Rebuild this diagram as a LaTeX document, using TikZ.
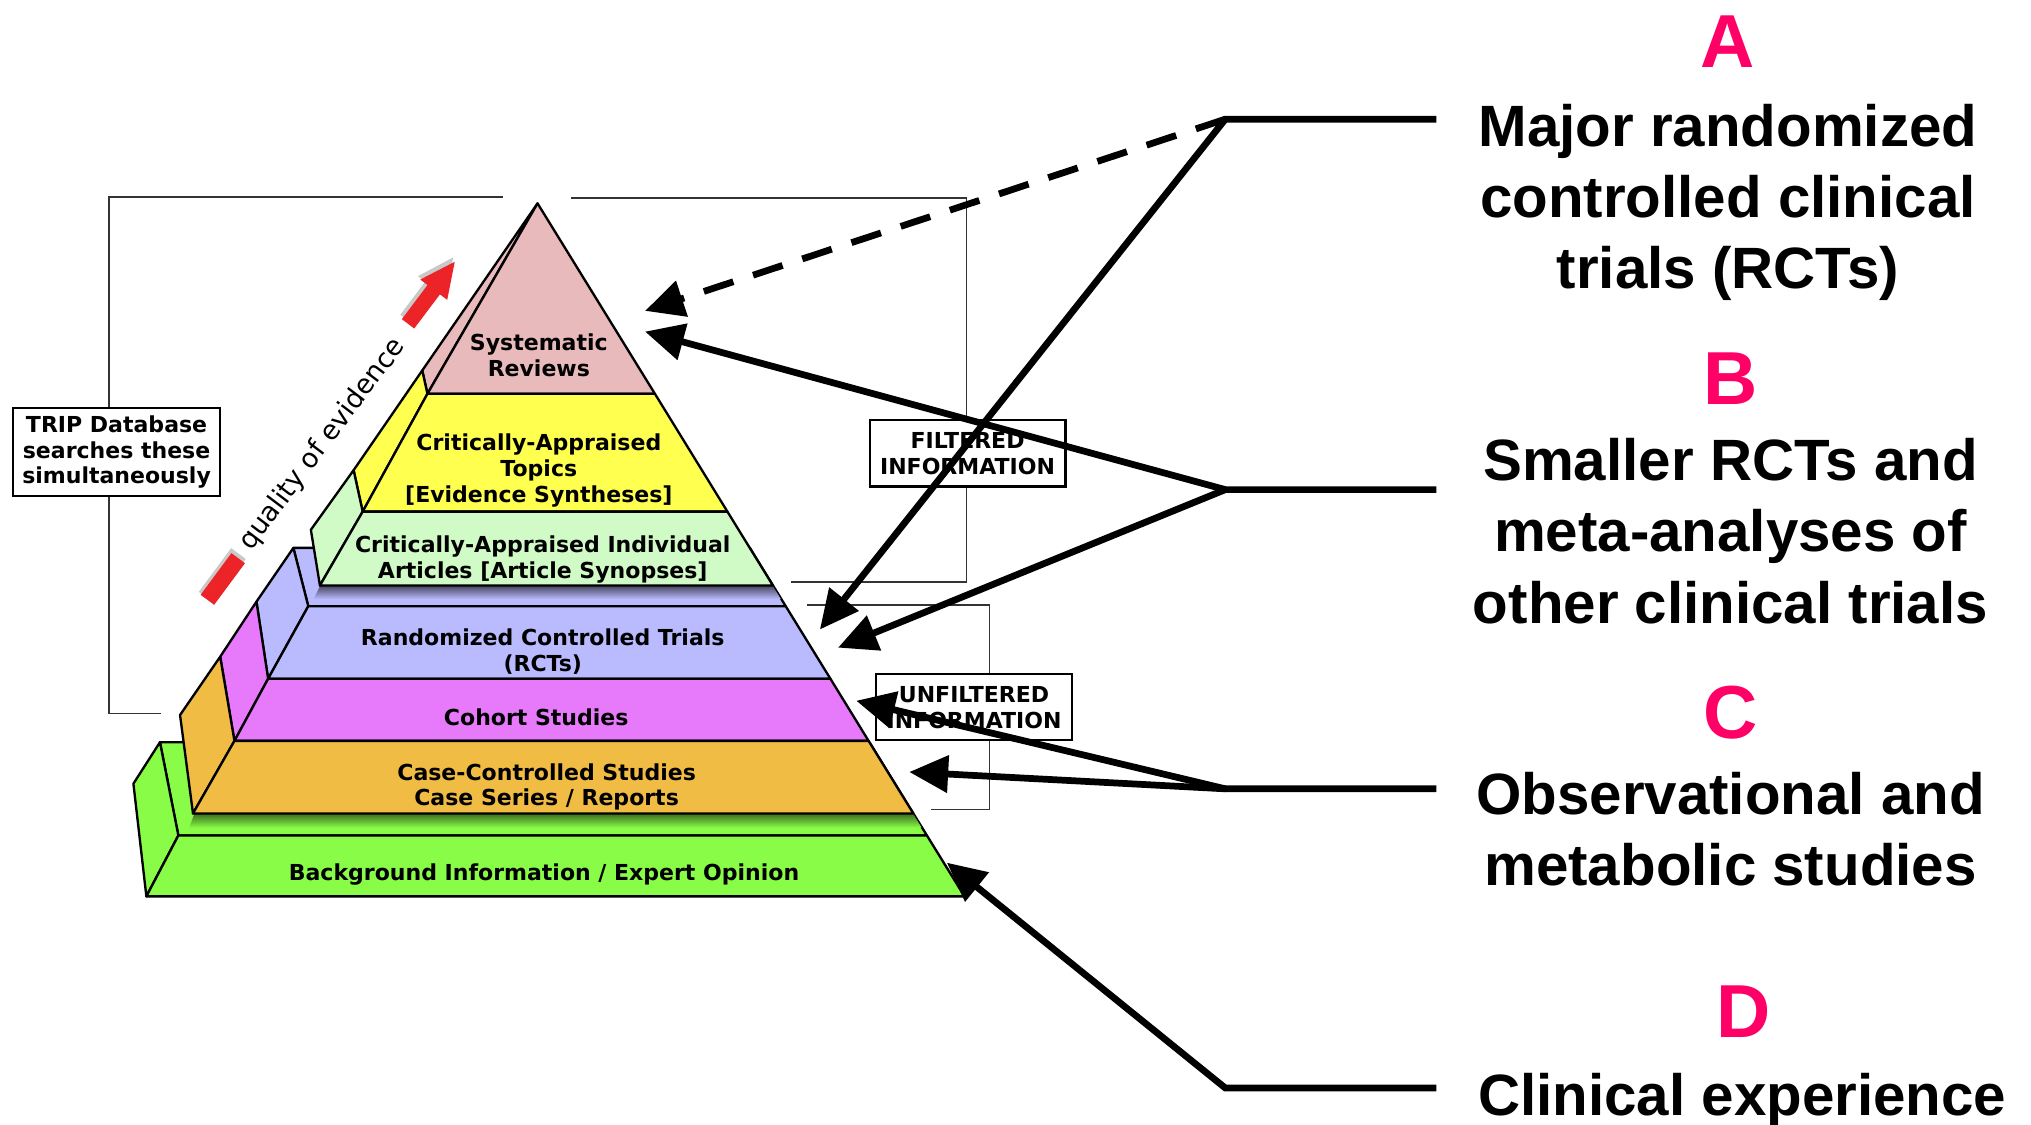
\documentclass[tikz,border=0pt]{standalone}
\usepackage{fontspec}
\setmainfont{Liberation Sans}
\newfontfamily\pyrfont{DejaVu Sans}
\usetikzlibrary{arrows.meta}

% layer colours
\definecolor{srpink}{RGB}{232,186,188}
\definecolor{catyellow}{RGB}{255,255,80}
\definecolor{caiagreen}{RGB}{208,250,198}
\definecolor{rctlav}{RGB}{186,186,255}
\definecolor{cohmag}{RGB}{230,122,250}
\definecolor{ccorange}{RGB}{240,188,68}
\definecolor{bggreen}{RGB}{136,252,70}
\definecolor{letterpink}{RGB}{255,0,102}
\definecolor{qred}{RGB}{236,36,40}

\begin{document}
\begin{tikzpicture}[x=0.5pt,y=-0.5pt,
  face/.style={draw=black,line width=0.9pt,line join=round},
  tierlabel/.style={font=\pyrfont\bfseries\fontsize{8.5}{10}\selectfont,align=center,inner sep=0pt},
  infobox/.style={draw=black,line width=0.9pt,fill=white,align=center,inner sep=0pt,
    font=\pyrfont\bfseries\fontsize{8.5}{10}\selectfont},
  bracket/.style={draw=black!80,line width=0.6pt},
  letter/.style={font=\bfseries\fontsize{29}{34}\selectfont,text=letterpink,anchor=base,inner sep=0pt},
  descr/.style={font=\bfseries\fontsize{22.5}{27.5}\selectfont,align=center,anchor=north,inner sep=0pt},
  conn/.style={line width=2.6pt,line join=miter,-{Triangle[length=15pt,width=14pt]}},
  hline/.style={line width=2.6pt}
]
\fill[white] (0,0) rectangle (1568,868);
\useasboundingbox (0,0) rectangle (1568,868);

% ---- thin brackets grouping the levels
\draw[bracket] (124,551) -- (84,551) -- (84,152) -- (388,152);
\draw[bracket] (441,153) -- (746,153) -- (746,449.5) -- (611,449.5);
\draw[bracket] (623,467) -- (764,467) -- (764,625) -- (719,625);

\node[infobox,minimum width=80pt,minimum height=34pt] (trip) at (90,349)
  {TRIP Database\\searches these\\simultaneously};
\node[infobox,minimum width=75.5pt,minimum height=25.5pt] (filt) at (747,350)
  {FILTERED\\INFORMATION};
\node[infobox,minimum width=75.5pt,minimum height=25.5pt] (unfilt) at (752,546)
  {UNFILTERED\\INFORMATION};

% ---- base tier
\draw[face,fill=bggreen] (123.5,573) -- (671.2,573) -- (715.6,645) -- (137.7,645) -- cycle;
\shade[top color=bggreen!45!black,bottom color=bggreen] (150,628.5) -- (705.1,628.5) -- (711.5,639) -- (146,639) -- cycle;
\draw[face,fill=bggreen] (123.5,573) -- (103,605) -- (113,692) -- (137.7,645) -- cycle;
\draw[face,fill=bggreen] (137.7,645) -- (715.6,645) -- (744.6,692) -- (113,692) -- cycle;

% ---- unfiltered tier
\draw[face,fill=rctlav] (226.5,423) -- (578.9,423) -- (606.6,468) -- (238,468) -- cycle;
\shade[top color=rctlav!40!black,bottom color=rctlav] (247,452.5) -- (596.7,452.5) -- (602.8,462.5) -- (242,462.5) -- cycle;
\draw[face,fill=rctlav] (226.5,423) -- (198,464.5) -- (207,524) -- (238,468) -- cycle;
\draw[face,fill=cohmag] (198,464.5) -- (170,507) -- (181,572) -- (207,524) -- cycle;
\draw[face,fill=ccorange] (170,507) -- (139,552) -- (149,628) -- (181,572) -- cycle;
\draw[face,fill=rctlav] (238,468) -- (606.6,468) -- (641.1,524) -- (207,524) -- cycle;
\draw[face,fill=cohmag] (207,524) -- (641.1,524) -- (670.6,572) -- (181,572) -- cycle;
\draw[face,fill=ccorange] (181,572) -- (670.6,572) -- (705.1,628) -- (149,628) -- cycle;

% ---- filtered tier
\draw[face,fill=srpink] (415,157) -- (326,286) -- (330,304) -- cycle;
\draw[face,fill=catyellow] (326,286) -- (273,363) -- (280,395) -- (330,304) -- cycle;
\draw[face,fill=caiagreen] (273,363) -- (240,409) -- (247,452) -- (280,395) -- cycle;
\draw[face,fill=srpink] (415,157) -- (505.6,304) -- (330,304) -- cycle;
\draw[face,fill=catyellow] (330,304) -- (505.6,304) -- (561.6,395) -- (280,395) -- cycle;
\draw[face,fill=caiagreen] (280,395) -- (561.6,395) -- (596.7,452) -- (247,452) -- cycle;

% ---- level names
\node[tierlabel] (sr) at (416,274) {Systematic\\Reviews};
\node[tierlabel] (cat) at (416,363) {Critically-Appraised\\Topics\\{[Evidence Syntheses]}};
\node[tierlabel] (caia) at (419,432) {Critically-Appraised Individual\\Articles {[Article Synopses]}};
\node[tierlabel] (rct) at (419,503) {Randomized Controlled Trials\\(RCTs)};
\node[tierlabel] (coh) at (414,554) {Cohort Studies};
\node[tierlabel] (ccs) at (422,607.5) {Case-Controlled Studies\\Case Series / Reports};
\node[tierlabel] (bg) at (420,675) {Background Information / Expert Opinion};

% ---- quality of evidence axis
\begin{scope}[shift={(172,447)},rotate=53.5]
  \fill[black!60,opacity=.35] (-19,-9) rectangle (23,5);
  \fill[qred] (-20,-6.5) rectangle (20,6.5);
\end{scope}
\node[rotate=53,inner sep=0pt,font=\pyrfont\fontsize{10.4}{12}\selectfont] (qe) at (249,343) {quality of evidence};
\begin{scope}[shift={(315,250)},rotate=53]
  \fill[black!60,opacity=.35] (2,-9) -- (34,-9) -- (34,-16) -- (62,-3) -- (34,10) -- (34,3) -- (2,3) -- cycle;
  \fill[qred] (0,-6) -- (33,-6) -- (33,-13) -- (60,0) -- (33,13) -- (33,6) -- (0,6) -- cycle;
\end{scope}

% ---- study categories
\node[letter] (la) at (1334,52) {A};
\node[descr] (da) at (1334,80) {Major randomized\\controlled clinical\\trials (RCTs)};
\node[letter] (lb) at (1336,312) {B};
\node[descr] (db) at (1336,338) {Smaller RCTs and\\meta-analyses of\\other clinical trials};
\node[letter] (lc) at (1336,570) {C};
\node[descr] (dc) at (1336,596) {Observational and\\metabolic studies};
\node[letter] (ld) at (1346,801) {D};
\node[font=\bfseries\fontsize{22.5}{27.5}\selectfont,anchor=base,inner sep=0pt] (dd) at (1345,861) {Clinical experience};

% ---- pointers
\coordinate (jA) at (946,92);   \coordinate (eA) at (1109,92);
\coordinate (jB) at (946,378);  \coordinate (eB) at (1109,378);
\coordinate (jC) at (946,609);  \coordinate (eC) at (1109,609);
\coordinate (jD) at (946,840);  \coordinate (eD) at (1109,840);
\coordinate (tAd) at (498,240);
\coordinate (tAs) at (633,486);
\coordinate (tBu) at (498,256);
\coordinate (tBl) at (647,500);
\coordinate (tCu) at (661,541);
\coordinate (tCl) at (702,596);
\coordinate (tD) at (731,666);

\draw[conn,dash pattern=on 12pt off 8pt] (jA) -- (tAd);
\draw[conn] (eA) -- (jA) -- (tAs);
\draw[conn] (eB) -- (jB) -- (tBu);
\draw[conn] (jB) -- (tBl);
\draw[conn] (eC) -- (jC) -- (tCl);
\draw[conn] (jC) -- (tCu);
\draw[conn] (eD) -- (jD) -- (tD);
\end{tikzpicture}
\end{document}
